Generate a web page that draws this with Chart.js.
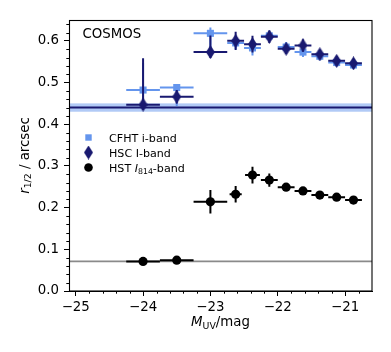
<!DOCTYPE html>
<html>
<head>
<meta charset="utf-8">
<script src="https://cdn.jsdelivr.net/npm/chart.js@4/dist/chart.umd.min.js"></script>
<style>
  html, body { margin: 0; padding: 0; background: #fff; }
  #c { display: block; }
</style>
</head>
<body>
<canvas id="c" width="391" height="352"></canvas>
<script>
// ---------------- DATA ----------------
const xTickValues = [-25, -24, -23, -22, -21];
const yTickValues = [0.0, 0.1, 0.2, 0.3, 0.4, 0.5, 0.6];

const binCentres = [-24.0, -23.5, -23.0, -22.625, -22.375, -22.125, -21.875, -21.625, -21.375, -21.125, -20.875];
const binHalfWidths = [0.25, 0.25, 0.25, 0.125, 0.125, 0.125, 0.125, 0.125, 0.125, 0.125, 0.125];

const cfhtR   = [0.482, 0.488, 0.618, 0.595, 0.583, 0.612, 0.585, 0.573, 0.563, 0.548, 0.542];
const cfhtLo  = [0.040, 0.044, 0.043, 0.015, 0.018, 0.012, 0.012, 0.012, 0.010, 0.010, 0.008];
const cfhtHi  = [0.065, 0.008, 0.014, 0.015, 0.012, 0.012, 0.012, 0.010, 0.010, 0.008, 0.008];

const hscR    = [0.447, 0.466, 0.573, 0.600, 0.592, 0.610, 0.581, 0.589, 0.568, 0.552, 0.546];
const hscLo   = [0.012, 0.016, 0.014, 0.022, 0.020, 0.015, 0.012, 0.015, 0.010, 0.010, 0.010];
const hscHi   = [0.111, 0.016, 0.040, 0.022, 0.020, 0.015, 0.012, 0.015, 0.010, 0.010, 0.010];

const hstR    = [0.071, 0.074, 0.214, 0.232, 0.278, 0.266, 0.249, 0.240, 0.230, 0.225, 0.218];
const hstErr  = [0.005, 0.005, 0.028, 0.020, 0.020, 0.016, 0.008, 0.006, 0.006, 0.006, 0.006];
const hstXHalf = [0.25, 0.25, 0.25, 0.09, 0.11, 0.125, 0.125, 0.125, 0.125, 0.125, 0.125];

const groundLevel = 0.44;      // ground-based PSF (blue line)
const groundBand  = 0.01;      // half width of light band
const hstLevel    = 0.071;     // HST PSF (grey line)

const seriesNames = ['CFHT i-band', 'HSC I-band', 'HST I814-band'];

// ---------------- STYLE ----------------
const FONT = "'DejaVu Sans', sans-serif";
const CFHT_COLOR = '#6495ED';
const HSC_COLOR = '#191970';
const HST_COLOR = '#000000';

function makeDiamond(w, h, color) {
  const c = document.createElement('canvas');
  c.width = w; c.height = h;
  const g = c.getContext('2d');
  g.fillStyle = color;
  g.beginPath();
  g.moveTo(w / 2, 0);
  g.lineTo(w, h / 2);
  g.lineTo(w / 2, h);
  g.lineTo(0, h / 2);
  g.closePath();
  g.fill();
  return c;
}
const diamond = makeDiamond(9, 14, HSC_COLOR);

function pts(ys) { return binCentres.map((x, i) => ({ x: x, y: ys[i] })); }

const datasets = [
  {
    label: seriesNames[0], data: pts(cfhtR), order: 3,
    pointStyle: 'rect', pointRadius: 5, backgroundColor: CFHT_COLOR, borderColor: CFHT_COLOR, borderWidth: 0,
    showLine: false, errColor: CFHT_COLOR, xErr: binHalfWidths, yLo: cfhtLo, yHi: cfhtHi
  },
  {
    label: seriesNames[1], data: pts(hscR), order: 2,
    pointStyle: diamond, pointRadius: 7, backgroundColor: HSC_COLOR, borderColor: HSC_COLOR, borderWidth: 0,
    showLine: false, errColor: HSC_COLOR, xErr: binHalfWidths, yLo: hscLo, yHi: hscHi
  },
  {
    label: seriesNames[2], data: pts(hstR), order: 1,
    pointStyle: 'circle', pointRadius: 4.6, backgroundColor: HST_COLOR, borderColor: HST_COLOR, borderWidth: 0,
    showLine: false, errColor: HST_COLOR, xErr: hstXHalf, yLo: hstErr, yHi: hstErr
  }
];

// ---------------- PLUGINS ----------------
const refLines = {
  id: 'refLines',
  beforeDatasetsDraw(chart) {
    const { ctx, chartArea: a, scales: { y } } = chart;
    ctx.save();
    ctx.beginPath(); ctx.rect(a.left, a.top, a.right - a.left, a.bottom - a.top); ctx.clip();
    const yt = y.getPixelForValue(groundLevel + groundBand);
    const yb = y.getPixelForValue(groundLevel - groundBand);
    ctx.fillStyle = 'rgba(100,149,237,0.5)';
    ctx.fillRect(a.left, yt, a.right - a.left, yb - yt);
    ctx.strokeStyle = HSC_COLOR; ctx.lineWidth = 2;
    const yl = y.getPixelForValue(groundLevel);
    ctx.beginPath(); ctx.moveTo(a.left, yl); ctx.lineTo(a.right, yl); ctx.stroke();
    ctx.strokeStyle = '#8a8a8a'; ctx.lineWidth = 1.6;
    const yg = y.getPixelForValue(hstLevel);
    ctx.beginPath(); ctx.moveTo(a.left, yg); ctx.lineTo(a.right, yg); ctx.stroke();
    ctx.restore();
  }
};

const errorBars = {
  id: 'errorBars',
  beforeDatasetDraw(chart, args) {
    const ds = chart.data.datasets[args.index];
    const { ctx, scales: { x, y } } = chart;
    ctx.save();
    ctx.strokeStyle = ds.errColor;
    ctx.lineWidth = 2;
    ds.data.forEach((p, i) => {
      const px = x.getPixelForValue(p.x), py = y.getPixelForValue(p.y);
      const x0 = x.getPixelForValue(p.x - ds.xErr[i]), x1 = x.getPixelForValue(p.x + ds.xErr[i]);
      const y0 = y.getPixelForValue(p.y - ds.yLo[i]), y1 = y.getPixelForValue(p.y + ds.yHi[i]);
      ctx.beginPath();
      ctx.moveTo(x0, py); ctx.lineTo(x1, py);
      ctx.moveTo(px, y0); ctx.lineTo(px, y1);
      ctx.stroke();
    });
    ctx.restore();
  }
};

function drawRich(ctx, parts, x, y, align) {
  const base = 13.33;
  const widths = parts.map(p => {
    ctx.font = (p.italic ? 'oblique ' : '') + (p.size || base) + 'px ' + FONT;
    return ctx.measureText(p.t).width;
  });
  const total = widths.reduce((s, w) => s + w, 0);
  let cx = align === 'center' ? x - total / 2 : x;
  parts.forEach((p, i) => {
    ctx.font = (p.italic ? 'oblique ' : '') + (p.size || base) + 'px ' + FONT;
    ctx.fillText(p.t, cx, y + (p.dy || 0));
    cx += widths[i];
  });
}

const decorations = {
  id: 'decorations',
  afterDraw(chart) {
    const { ctx, chartArea: a, scales: { x, y } } = chart;
    ctx.save();
    ctx.fillStyle = '#000'; ctx.strokeStyle = '#000';
    ctx.textBaseline = 'alphabetic'; ctx.textAlign = 'left';
    ctx.lineWidth = 1.1;
    ctx.strokeRect(Math.round(a.left) + 0.5, Math.round(a.top) + 0.5,
                   Math.round(a.right - a.left) - 0.5, Math.round(a.bottom - a.top) - 0.5);
    ctx.lineWidth = 1;
    ctx.beginPath();
    for (let k = 0; k <= 30; k++) {
      const v = -25.2 + k * 0.2;
      if (v < x.min || v > x.max) continue;
      if (Math.abs(v - Math.round(v)) < 1e-6) continue;
      const px = Math.round(x.getPixelForValue(v)) + 0.5;
      ctx.moveTo(px, a.bottom); ctx.lineTo(px, a.bottom + 2.7);
    }
    for (let k = 0; k <= 40; k++) {
      const v = k * 0.02;
      if (v < y.min || v > y.max) continue;
      if (k % 5 === 0) continue;
      const py = Math.round(y.getPixelForValue(v)) + 0.5;
      ctx.moveTo(a.left, py); ctx.lineTo(a.left - 2.7, py);
    }
    ctx.stroke();

    ctx.font = '13.33px ' + FONT;
    ctx.fillText('COSMOS', 82.5, 38);

    drawRich(ctx, [
      { t: 'M', italic: true },
      { t: 'UV', size: 9.4, dy: 2.5 },
      { t: '/mag' }
    ], (a.left + a.right) / 2, 326, 'center');

    ctx.save();
    ctx.translate(28.5, (a.top + a.bottom) / 2);
    ctx.rotate(-Math.PI / 2);
    drawRich(ctx, [
      { t: 'r', italic: true },
      { t: '1/2', size: 9.4, dy: 2.5 },
      { t: ' / arcsec' }
    ], 0, 0, 'center');
    ctx.restore();

    const lx = 88.5, tx = 109;
    const rows = [137.5, 152.5, 167.5];
    ctx.fillStyle = CFHT_COLOR;
    ctx.fillRect(lx - 3.2, rows[0] - 3.2, 6.4, 6.4);
    ctx.drawImage(diamond, lx - 4.5, rows[1] - 7);
    ctx.fillStyle = HST_COLOR;
    ctx.beginPath(); ctx.arc(lx, rows[2], 4.3, 0, Math.PI * 2); ctx.fill();
    ctx.fillStyle = '#000';
    const fs = 11.1;
    drawRich(ctx, [{ t: seriesNames[0], size: fs }], tx, rows[0] + 4.2, 'left');
    drawRich(ctx, [{ t: seriesNames[1], size: fs }], tx, rows[1] + 4.2, 'left');
    drawRich(ctx, [
      { t: 'HST ', size: fs },
      { t: 'I', italic: true, size: fs },
      { t: '814', size: 7.8, dy: 2 },
      { t: '-band', size: fs }
    ], tx, rows[2] + 4.2, 'left');
    ctx.restore();
  }
};

// ---------------- CHART ----------------
new Chart(document.getElementById('c'), {
  type: 'scatter',
  data: { datasets: datasets },
  options: {
    responsive: false,
    devicePixelRatio: 1,
    animation: false,
    layout: { autoPadding: false, padding: { top: 20, right: 19, left: 0, bottom: 0 } },
    plugins: { legend: { display: false }, tooltip: { enabled: false } },
    scales: {
      x: {
        type: 'linear', position: 'bottom', min: -25.1, max: -20.6,
        afterBuildTicks: s => { s.ticks = xTickValues.map(v => ({ value: v })); },
        afterFit: s => { s.height = 61; },
        grid: { drawOnChartArea: false, drawTicks: true, tickLength: 5, tickColor: '#000', tickWidth: 1 },
        border: { display: true, color: '#000', width: 1 },
        ticks: {
          color: '#000', font: { family: FONT, size: 13.33 }, padding: 4,
          maxRotation: 0, autoSkip: false,
          callback: v => (v < 0 ? '\u2212' + Math.abs(v) : String(v))
        }
      },
      y: {
        type: 'linear', position: 'left', min: 0, max: 0.65,
        afterBuildTicks: s => { s.ticks = yTickValues.map(v => ({ value: v })); },
        afterFit: s => { s.width = 69; },
        grid: { drawOnChartArea: false, drawTicks: true, tickLength: 5, tickColor: '#000', tickWidth: 1 },
        border: { display: true, color: '#000', width: 1 },
        ticks: {
          color: '#000', font: { family: FONT, size: 13.33 }, padding: 5,
          autoSkip: false,
          callback: v => v.toFixed(1)
        }
      }
    }
  },
  plugins: [refLines, errorBars, decorations]
});
</script>
</body>
</html>
